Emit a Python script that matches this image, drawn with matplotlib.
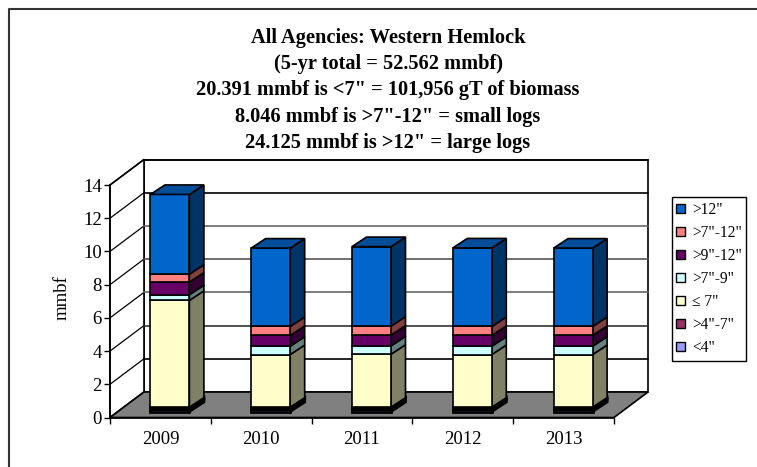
import matplotlib
matplotlib.use('Agg')
import matplotlib.pyplot as plt
from matplotlib.patches import Polygon, Patch
from matplotlib.colors import to_rgb
from matplotlib.lines import Line2D

plt.rcParams['font.family'] = ['Liberation Serif', 'DejaVu Serif']

years = ['2009', '2010', '2011', '2012', '2013']
under4 = [0.13, 0.13, 0.13, 0.13, 0.13]
from4to7 = [0.13, 0.13, 0.13, 0.13, 0.13]
upto7 = [6.43, 3.17, 3.19, 3.17, 3.17]
from7to9 = [0.34, 0.50, 0.50, 0.50, 0.50]
from9to12 = [0.76, 0.65, 0.65, 0.65, 0.65]
from7to12 = [0.48, 0.54, 0.54, 0.54, 0.54]
over12 = [4.80, 4.72, 4.79, 4.73, 4.72]

series = [under4, from4to7, upto7, from7to9, from9to12, from7to12, over12]
names = ['<4"', '>4"-7"', '\u2264 7"', '>7"-9"', '>9"-12"', '>7"-12"', '>12"']
colors = ['#9999FF', '#993366', '#FFFFCC', '#CCFFFF', '#660066', '#FF8080', '#0066CC']

title = ('All Agencies: Western Hemlock\n'
         '(5-yr total = 52.562 mmbf)\n'
         '20.391 mmbf is <7" = 101,956 gT of biomass\n'
         '8.046 mmbf is >7"-12" = small logs\n'
         '24.125 mmbf is >12" = large logs')

W, H = 757, 467
fig = plt.figure(figsize=(W / 100, H / 100), dpi=100)

# axes box is the front plane of the fake 3d chart
ax = fig.add_axes([110 / W, 1 - 417.5 / H, 504 / W, 232.5 / H])
ax.set_xlim(-0.5, 4.5)
ax.set_ylim(0, 14)
ax.patch.set_alpha(0)

# depth of the box and of the bars, in data units
ux = 504 / 5
uy = 232.5 / 14
deep_x, deep_y = 34 / ux, 25.5 / uy
bar_dx, bar_dy = 14.5 / ux, 9.5 / uy
off_x, off_y = 9.5 / ux, 6 / uy
half = 19.5 / ux


def poly(pts, fc, z, lw=1.2):
    ax.add_patch(Polygon(pts, closed=True, fc=fc, ec='black', lw=lw, zorder=z, clip_on=False))


def shade(c, k):
    return tuple(v * k for v in to_rgb(c))


# back wall, side wall, floor
poly([(-0.5 + deep_x, deep_y), (4.5 + deep_x, deep_y), (4.5 + deep_x, 14 + deep_y), (-0.5 + deep_x, 14 + deep_y)], 'white', 1)
poly([(-0.5, 0), (-0.5 + deep_x, deep_y), (-0.5 + deep_x, 14 + deep_y), (-0.5, 14)], 'white', 1)

grid_cols = {2: 'black', 4: '#333333', 6: '#666666', 8: '#555555', 10: '#666666', 12: 'black', 14: 'black'}
for lev in range(2, 16, 2):
    ax.plot([-0.5, -0.5 + deep_x], [lev, lev + deep_y], color='black', lw=0.9, zorder=2, clip_on=False)
    ax.plot([-0.5 + deep_x, 4.5 + deep_x], [lev + deep_y] * 2, color=grid_cols[lev], lw=1.2, zorder=2, clip_on=False)

poly([(-0.5, 0), (4.5, 0), (4.5 + deep_x, deep_y), (-0.5 + deep_x, deep_y)], '#808080', 3)

# stacked bars, one box for every segment
for i in range(len(years)):
    x0 = i + off_x - half
    x1 = i + off_x + half
    base = off_y
    for vals, c in zip(series, colors):
        top = base + vals[i]
        z = 4 + i
        # the two thin bottom segments only show as black edges
        lw = 2.0 if vals[i] < 0.2 else 1.2
        poly([(x1, base), (x1 + bar_dx, base + bar_dy), (x1 + bar_dx, top + bar_dy), (x1, top)], shade(c, 0.5), z, lw)
        poly([(x0, base), (x1, base), (x1, top), (x0, top)], c, z, lw)
        base = top
    poly([(x0, base), (x1, base), (x1 + bar_dx, base + bar_dy), (x0 + bar_dx, base + bar_dy)], shade(colors[-1], 0.75), z)

# axes
for s in ['top', 'right']:
    ax.spines[s].set_visible(False)
for s in ['left', 'bottom']:
    ax.spines[s].set_linewidth(1.2)
    ax.spines[s].set_zorder(10)
ax.set_yticks(range(0, 16, 2))
ax.set_xticks(range(5))
ax.set_xticklabels(years)
ax.set_xticks([-0.5, 0.5, 1.5, 2.5, 3.5, 4.5], minor=True)
ax.tick_params(axis='x', which='major', length=0, pad=10, labelsize=13.5)
ax.tick_params(axis='x', which='minor', length=4, width=1)
ax.tick_params(axis='y', length=4, width=1, pad=2, labelsize=13.5)
ax.set_ylabel('mmbf', fontsize=13.5, labelpad=9, y=0.515)

fig.text(388 / W, 1 - 90.5 / H, title, ha='center', va='center', fontsize=14.7,
         fontweight='bold', linespacing=1.42)

# outer chart border, only top and left show up in the crop
fig.add_artist(Line2D([9 / W, 9 / W, 1], [0, 1 - 9 / H, 1 - 9 / H], color='#333333', lw=1.5))

handles = [Patch(fc=c, ec='black', lw=1) for c in colors[::-1]]
leg = fig.legend(handles, names[::-1], loc='center', bbox_to_anchor=(709 / W, 1 - 279 / H),
                 fontsize=11.2, frameon=True, fancybox=False, edgecolor='black', framealpha=1,
                 handlelength=0.55, handleheight=0.55, handletextpad=0.45, labelspacing=0.45,
                 borderpad=0.3, borderaxespad=0)
leg.get_frame().set_linewidth(1)

fig.savefig('out.png', dpi=100)
